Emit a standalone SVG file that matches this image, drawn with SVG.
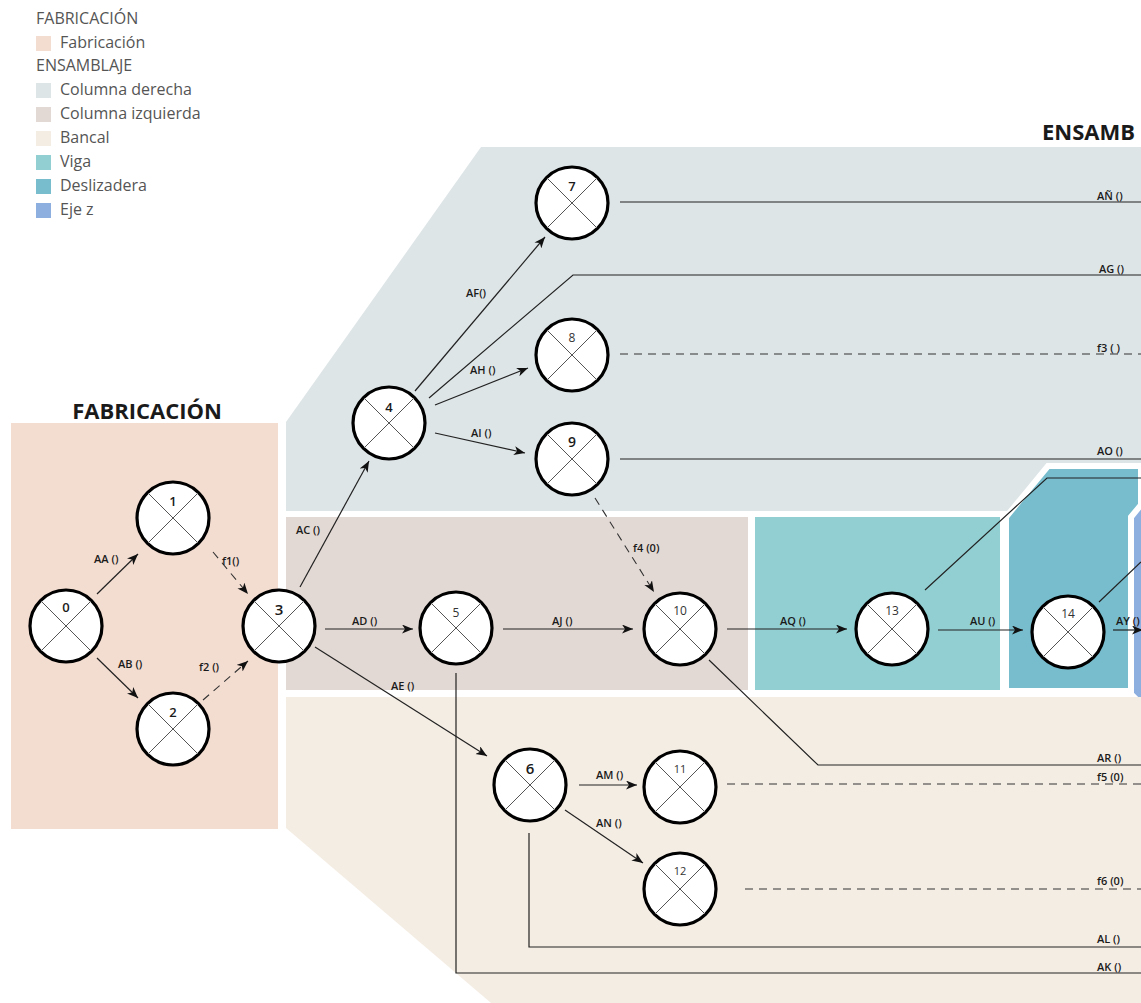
<svg xmlns="http://www.w3.org/2000/svg" xmlns:xlink="http://www.w3.org/1999/xlink" width="1141" height="1003" viewBox="0 0 1141 1003">
<style>
.leg{font-family:"Open Sans","DejaVu Sans",sans-serif;font-size:16px;fill:#555}
.title{font-family:"Open Sans","DejaVu Sans",sans-serif;font-size:22px;font-weight:700;fill:#1a1a1a}
.lbl{font-family:"Open Sans","DejaVu Sans",sans-serif;font-size:11px;font-weight:600;fill:#1a1a1a}
.num{font-family:"Open Sans","DejaVu Sans",sans-serif;font-size:13px;font-weight:600;fill:#1a1a1a;text-anchor:middle}
.numl{font-family:"Open Sans","DejaVu Sans",sans-serif;font-size:12px;font-weight:400;fill:#333;text-anchor:middle}
.c{fill:none;stroke:#222;stroke-width:1.2}
.d{fill:none;stroke:#333;stroke-width:1.1;stroke-dasharray:8 6}
.arr{marker-end:url(#ah)}
</style>
<defs>
<marker id="ah" markerUnits="userSpaceOnUse" markerWidth="12" markerHeight="10" refX="11" refY="4.5" orient="auto">
<path d="M0,0 L11,4.5 L0,9 L3,4.5 z" fill="#111"/>
</marker>
<g id="nd">
<circle r="36" fill="#fff" stroke="#000" stroke-width="3.2"/>
<line x1="-25" y1="-25" x2="25" y2="25" stroke="#555" stroke-width="1"/>
<line x1="25" y1="-25" x2="-25" y2="25" stroke="#555" stroke-width="1"/>
</g>
</defs>
<rect width="1141" height="1003" fill="#fff"/>

<g id="regions">
<rect x="11" y="423" width="267" height="406" fill="#f3dcd0"/>
<polygon points="481,147 1141,147 1141,511 286,511 286,422" fill="#dee5e7"/>
<rect x="286" y="517" width="462" height="173" fill="#e3d9d4"/>
<rect x="755" y="517" width="245" height="173" fill="#92cfd2"/>
<polygon points="1006,517 1048,466 1141,466 1141,691 1006,691" fill="#77bdcd" stroke="#fff" stroke-width="6" stroke-linejoin="miter"/>
<polygon points="1131,517 1145,500 1145,708 1131,694" fill="#8dafe0" stroke="#fff" stroke-width="6"/>
<polygon points="286,697 1141,697 1141,1003 491,1003 286,828" fill="#f4ede4"/>
</g>

<g id="legend">
<text class="leg" x="36" y="24">FABRICACIÓN</text>
<rect x="36" y="36" width="15" height="15" fill="#f3dcd0"/><text class="leg" x="60" y="48">Fabricación</text>
<text class="leg" x="36" y="71">ENSAMBLAJE</text>
<rect x="36" y="83" width="15" height="15" fill="#dee5e7"/><text class="leg" x="60" y="95">Columna derecha</text>
<rect x="36" y="107" width="15" height="15" fill="#e3d9d4"/><text class="leg" x="60" y="119">Columna izquierda</text>
<rect x="36" y="131" width="15" height="15" fill="#f4ede4"/><text class="leg" x="60" y="143">Bancal</text>
<rect x="36" y="155" width="15" height="15" fill="#92cfd2"/><text class="leg" x="60" y="167">Viga</text>
<rect x="36" y="179" width="15" height="15" fill="#77bdcd"/><text class="leg" x="60" y="191">Deslizadera</text>
<rect x="36" y="203" width="15" height="15" fill="#8dafe0"/><text class="leg" x="60" y="215">Eje z</text>
</g>

<g id="titles">
<text class="title" x="147" y="419" text-anchor="middle">FABRICACIÓN</text>
<text class="title" x="1042" y="140">ENSAMB</text>
</g>

<g id="connectors">
<path class="c arr" d="M97,594 L138,554"/>
<path class="c arr" d="M97,658 L138,698"/>
<path class="d arr" d="M213,552 L248,594"/>
<path class="d arr" d="M203,700 L248,661"/>
<path class="c arr" d="M300,587 L369,461"/>
<path class="c arr" d="M325,629 L413,629"/>
<path class="c arr" d="M315,647 L487,756"/>
<path class="c arr" d="M415,391 L545,237"/>
<path class="c" d="M429,398 L573,275 L1141,275"/>
<path class="c arr" d="M435,405 L528,368"/>
<path class="c arr" d="M435,433 L525,453"/>
<path class="c" d="M620,202 L1141,202"/>
<path class="d" d="M620,354 L1141,354"/>
<path class="c" d="M620,459 L1141,459"/>
<path class="d arr" d="M595,498 L654,592"/>
<path class="c arr" d="M503,629 L633,629"/>
<path class="c arr" d="M727,629 L847,629"/>
<path class="c arr" d="M938,630 L1023,630"/>
<path class="c arr" d="M1113,630 L1143,630"/>
<path class="c" d="M925,590 L1047,478 L1141,478"/>
<path class="c" d="M1099,602 L1141,562"/>
<path class="c" d="M709,660 L818,765 L1141,765"/>
<path class="d" d="M727,784 L1141,784"/>
<path class="d" d="M745,889 L1141,889"/>
<path class="c" d="M529,833 L529,947 L1141,947"/>
<path class="c" d="M456,673 L456,973 L1141,973"/>
<path class="c arr" d="M579,785 L637,785"/>
<path class="c arr" d="M565,810 L643,863"/>
</g>

<g id="labels">
<text class="lbl" x="94" y="563">AA ()</text>
<text class="lbl" x="118" y="668">AB ()</text>
<text class="lbl" x="222" y="565">f1()</text>
<text class="lbl" x="199" y="671">f2 ()</text>
<text class="lbl" x="296" y="534">AC ()</text>
<text class="lbl" x="352" y="625">AD ()</text>
<text class="lbl" x="391" y="690">AE ()</text>
<text class="lbl" x="552" y="625">AJ ()</text>
<text class="lbl" x="466" y="297">AF()</text>
<text class="lbl" x="470" y="374">AH ()</text>
<text class="lbl" x="471" y="437">AI ()</text>
<text class="lbl" x="633" y="552">f4 (0)</text>
<text class="lbl" x="780" y="625">AQ ()</text>
<text class="lbl" x="970" y="625">AU ()</text>
<text class="lbl" x="1116" y="625">AY ()</text>
<text class="lbl" x="596" y="779">AM ()</text>
<text class="lbl" x="596" y="827">AN ()</text>
<text class="lbl" x="1097" y="200">AÑ ()</text>
<text class="lbl" x="1099" y="273">AG ()</text>
<text class="lbl" x="1097" y="352">f3 ( )</text>
<text class="lbl" x="1097" y="455">AO ()</text>
<text class="lbl" x="1097" y="762">AR ()</text>
<text class="lbl" x="1097" y="781">f5 (0)</text>
<text class="lbl" x="1097" y="885">f6 (0)</text>
<text class="lbl" x="1097" y="943">AL ()</text>
<text class="lbl" x="1097" y="971">AK ()</text>
</g>

<g id="node-0"><use href="#nd" x="66" y="626"/><text class="num" x="66" y="612">0</text></g>
<g id="node-1"><use href="#nd" x="173" y="518"/><text class="num" x="173" y="506">1</text></g>
<g id="node-2"><use href="#nd" x="173" y="729"/><text class="num" x="173" y="717">2</text></g>
<g id="node-3"><use href="#nd" x="279" y="626"/><text class="num" x="279" y="615" style="font-size:15px">3</text></g>
<g id="node-4"><use href="#nd" x="389" y="423"/><text class="num" x="389" y="412">4</text></g>
<g id="node-5"><use href="#nd" x="456" y="628"/><text class="numl" x="456" y="617">5</text></g>
<g id="node-6"><use href="#nd" x="530" y="785"/><text class="num" x="530" y="774" style="font-size:15px">6</text></g>
<g id="node-7"><use href="#nd" x="572" y="203"/><text class="num" x="572" y="191">7</text></g>
<g id="node-8"><use href="#nd" x="572" y="355"/><text class="numl" x="572" y="342">8</text></g>
<g id="node-9"><use href="#nd" x="572" y="459"/><text class="num" x="572" y="447" style="font-size:14px">9</text></g>
<g id="node-10"><use href="#nd" x="680" y="629"/><text class="numl" x="680" y="615">10</text></g>
<g id="node-11"><use href="#nd" x="680" y="787"/><text class="numl" x="680" y="773" style="font-size:11px">11</text></g>
<g id="node-12"><use href="#nd" x="680" y="889"/><text class="numl" x="680" y="875" style="font-size:11px">12</text></g>
<g id="node-13"><use href="#nd" x="892" y="629"/><text class="numl" x="892" y="615">13</text></g>
<g id="node-14"><use href="#nd" x="1068" y="632"/><text class="numl" x="1068" y="618">14</text></g>
</svg>
